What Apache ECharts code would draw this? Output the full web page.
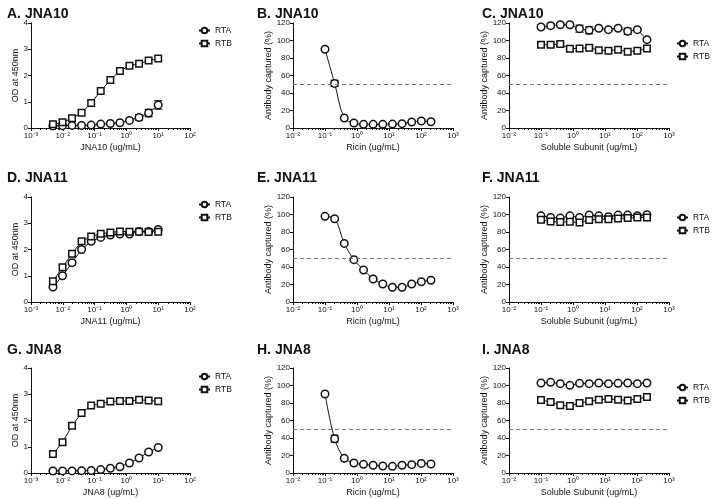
<!DOCTYPE html>
<html><head><meta charset="utf-8">
<script src="https://cdn.jsdelivr.net/npm/echarts@6/dist/echarts.min.js"></script>
<style>html,body{margin:0;padding:0;background:#fff}#c{width:713px;height:499px}</style>
</head><body><div id="c"></div><script>
// ---- concentrations ----
const concAb = [0.0049, 0.0098, 0.0195, 0.039, 0.078, 0.156, 0.3125, 0.625, 1.25, 2.5, 5, 10];
const concTox = [0.1, 0.2, 0.4, 0.8, 1.6, 3.2, 6.4, 12.8, 25.6, 51.2, 102.4, 204.8];
// ---- tick labels ----
const xTicksAb = [0.001, 0.01, 0.1, 1, 10, 100];
const xTicksTox = [0.01, 0.1, 1, 10, 100, 1000];
const yTicksOD = [0, 1, 2, 3, 4];
const yTicksPct = [0, 20, 40, 60, 80, 100, 120];
// ---- A. JNA10 ELISA ----
const A_RTA = [0.08, 0.09, 0.10, 0.10, 0.11, 0.15, 0.17, 0.20, 0.29, 0.40, 0.57, 0.88];
const A_RTA_err = [0, 0, 0, 0, 0, 0, 0, 0, 0.04, 0.1, 0.14, 0.16];
const A_RTB = [0.14, 0.22, 0.37, 0.58, 0.95, 1.41, 1.83, 2.17, 2.37, 2.45, 2.57, 2.65];
// ---- B. JNA10 ricin competition ----
const B_Ricin = [90, 51, 11.4, 5.7, 4.2, 4.2, 4.2, 4.5, 5, 6.8, 8, 7.2];
const B_Ricin_err = [0, 3.5, 0, 0, 0, 0, 0, 0, 0, 0, 0, 0];
// ---- C. JNA10 subunit competition ----
const C_RTA = [115.4, 117, 118, 118, 113.5, 111.6, 114, 112.4, 114, 110.5, 112.4, 101];
const C_RTA_err = [2, 2.5, 1.5, 1, 4, 4, 1, 1, 1, 3.5, 1, 1];
const C_RTB = [95.2, 95.2, 96, 90.7, 91, 91.8, 88.8, 88.4, 89.5, 87.2, 88.4, 91];
const C_RTB_err = [2, 2, 2, 0, 0, 1, 0, 0, 0, 0, 0, 0];
// ---- D. JNA11 ELISA ----
const D_RTA = [0.57, 1.0, 1.5, 2.0, 2.31, 2.46, 2.55, 2.59, 2.59, 2.69, 2.69, 2.76];
const D_RTA_err = [0, 0, 0.08, 0, 0, 0, 0, 0, 0, 0, 0, 0.04];
const D_RTB = [0.79, 1.32, 1.84, 2.31, 2.5, 2.6, 2.65, 2.69, 2.68, 2.68, 2.67, 2.68];
// ---- E. JNA11 ricin competition ----
const E_Ricin = [97.9, 95.2, 67, 48.4, 36.6, 26.3, 20.6, 16.8, 16.8, 20.6, 23.2, 24.8];
// ---- F. JNA11 subunit competition ----
const F_RTA = [98.5, 96.6, 95.9, 98.5, 96.6, 99.3, 98.5, 97.4, 99.3, 99.3, 98.5, 99.7];
const F_RTB = [93.9, 92, 91.3, 91.6, 90.9, 93.6, 94.7, 94.7, 95.5, 95.9, 96.6, 96.6];
// ---- G. JNA8 ELISA ----
const G_RTA = [0.08, 0.08, 0.08, 0.09, 0.10, 0.13, 0.18, 0.24, 0.38, 0.57, 0.80, 0.97];
const G_RTB = [0.72, 1.17, 1.80, 2.29, 2.57, 2.64, 2.72, 2.74, 2.74, 2.79, 2.76, 2.73];
// ---- H. JNA8 ricin competition ----
const H_Ricin = [90.3, 39.2, 16.8, 11.4, 9.9, 8.8, 8, 7.6, 8.8, 9.5, 11, 10.3];
const H_Ricin_err = [0, 4, 0, 0, 0, 0, 0, 0, 0, 0, 0, 0];
// ---- I. JNA8 subunit competition ----
const I_RTA = [102.9, 103.6, 102.1, 100.2, 102.5, 102.1, 102.9, 102.1, 102.5, 102.9, 102.1, 102.9];
const I_RTB = [83.4, 81.1, 77.3, 76.6, 80, 81.9, 83.8, 84.6, 83.8, 83, 84.6, 86.9];

const FONT = 'Liberation Sans, Arial, sans-serif';
const colLeft = [31, 293, 509], colW = [159, 160, 160];
const rowTop = [23, 197, 368], rowH = 105;

const panels = [
  {t:'A. JNA10', kind:'od', xName:'JNA10 (ug/mL)', s:[['RTA',A_RTA,A_RTA_err],['RTB',A_RTB,null]], legend:[198,30]},
  {t:'B. JNA10', kind:'tox', xName:'Ricin (ug/mL)', s:[['Ricin',B_Ricin,B_Ricin_err]]},
  {t:'C. JNA10', kind:'sub', xName:'Soluble Subunit (ug/mL)', s:[['RTA',C_RTA,C_RTA_err],['RTB',C_RTB,C_RTB_err]], legend:[676,43]},
  {t:'D. JNA11', kind:'od', xName:'JNA11 (ug/mL)', s:[['RTA',D_RTA,D_RTA_err],['RTB',D_RTB,null]], legend:[198,204]},
  {t:'E. JNA11', kind:'tox', xName:'Ricin (ug/mL)', s:[['Ricin',E_Ricin,null]]},
  {t:'F. JNA11', kind:'sub', xName:'Soluble Subunit (ug/mL)', s:[['RTA',F_RTA,null],['RTB',F_RTB,null]], legend:[676,217]},
  {t:'G. JNA8', kind:'od', xName:'JNA8 (ug/mL)', s:[['RTA',G_RTA,null],['RTB',G_RTB,null]], legend:[198,376]},
  {t:'H. JNA8', kind:'tox', xName:'Ricin (ug/mL)', s:[['Ricin',H_Ricin,H_Ricin_err]]},
  {t:'I. JNA8', kind:'sub', xName:'Soluble Subunit (ug/mL)', s:[['RTA',I_RTA,null],['RTB',I_RTB,null]], legend:[676,387]},
];
const titlePos = [[2,2],[252,2],[477,2],[2,166],[252,166],[477,166],[2,338],[252,338],[477,338]];

const supMap = {'-':'\u207B','0':'\u2070','1':'\u00B9','2':'\u00B2','3':'\u00B3'};
function fmtLog(v){ const e = String(Math.round(Math.log10(v))); return '10' + e.split('').map(c=>supMap[c]).join(''); }
function minorVals(lo, hi){ const out=[]; for(let e=lo;e<hi;e++){ for(let m=2;m<=9;m++) out.push(m*Math.pow(10,e)); } return out; }

const option = {animation:false, backgroundColor:'#fff', title:[], grid:[], xAxis:[], yAxis:[], series:[], legend:[]};
const axisLine = {show:true, lineStyle:{color:'#111', width:1}};

panels.forEach((p, i) => {
  const r = Math.floor(i/3), c = i%3;
  option.title.push({text:p.t, left:titlePos[i][0], top:titlePos[i][1], textStyle:{fontFamily:FONT, fontSize:14, fontWeight:'bold', color:'#111'}});
  option.grid.push({left:colLeft[c], top:rowTop[r], width:colW[c], height:rowH});
  const ticks = p.kind==='od' ? xTicksAb : xTicksTox;
  const xmin = ticks[0], xmax = ticks[ticks.length-1];
  option.xAxis.push({type:'log', logBase:10, gridIndex:i, min:xmin, max:xmax, position:'bottom',
    name:p.xName, nameLocation:'middle', nameGap:15, nameTextStyle:{fontFamily:FONT, fontSize:9, color:'#111'},
    axisLine, splitLine:{show:false},
    axisTick:{show:true, length:3, lineStyle:{color:'#111'}, customValues:ticks},
    axisLabel:{fontFamily:FONT, fontSize:8, color:'#111', margin:4, customValues:ticks, formatter:fmtLog}});
  option.xAxis.push({type:'log', logBase:10, gridIndex:i, min:xmin, max:xmax, position:'bottom',
    axisLine:{show:false}, splitLine:{show:false}, axisLabel:{show:false},
    axisTick:{show:true, length:2, lineStyle:{color:'#111'}, customValues:minorVals(Math.round(Math.log10(xmin)), Math.round(Math.log10(xmax)))}});
  const yt = p.kind==='od' ? yTicksOD : yTicksPct;
  option.yAxis.push({type:'value', gridIndex:i, min:yt[0], max:yt[yt.length-1], interval:yt[1]-yt[0],
    name: p.kind==='od' ? 'OD at 450nm' : 'Antibody captured (%)', nameLocation:'middle', nameGap: p.kind==='od' ? 11 : 19,
    nameTextStyle:{fontFamily:FONT, fontSize:9, color:'#111'},
    axisLine, splitLine:{show:false}, axisTick:{show:true, length:3, lineStyle:{color:'#111'}},
    axisLabel:{fontFamily:FONT, fontSize:8, color:'#111', margin:3}});
  const conc = p.kind==='od' ? concAb : concTox;
  p.s.forEach((s, k) => {
    const [name, vals, err] = s;
    const ser = {type:'line', name, xAxisIndex:2*i, yAxisIndex:i, z:3,
      data: conc.map((x,j)=>[x, vals[j]]),
      symbol: name==='RTB' ? 'rect' : 'circle', symbolSize: name==='RTB' ? 6.5 : 7.5,
      smooth: p.kind==='tox' ? 0.35 : false,
      itemStyle:{color:'#fff', borderColor:'#111', borderWidth:1.5},
      lineStyle:{color:'#111', width:1}, emphasis:{disabled:true}};
    if (p.kind!=='od' && k===0) {
      ser.markLine = {silent:true, symbol:'none', label:{show:false},
        lineStyle:{type:[4,3], color:'#777', width:1}, data:[{yAxis:50}]};
    }
    option.series.push(ser);
    if (err) {
      option.series.push({type:'custom', xAxisIndex:2*i, yAxisIndex:i, z:2, silent:true,
        data: conc.map((x,j)=>[x, vals[j], err[j]]).filter(d=>d[2]>0),
        renderItem:(params, api)=>{
          const x = api.value(0), y = api.value(1), e = api.value(2);
          const top = api.coord([x, y+e]), bot = api.coord([x, y-e]);
          const st = {stroke:'#111', lineWidth:1.2};
          return {type:'group', children:[
            {type:'line', shape:{x1:top[0], y1:top[1], x2:bot[0], y2:bot[1]}, style:st},
            {type:'line', shape:{x1:top[0]-4, y1:top[1], x2:top[0]+4, y2:top[1]}, style:st},
            {type:'line', shape:{x1:bot[0]-4, y1:bot[1], x2:bot[0]+4, y2:bot[1]}, style:st}]};
        }});
    }
  });
  if (p.legend) {
    option.legend.push({data:['RTA','RTB'], orient:'vertical', left:p.legend[0], top:p.legend[1]-4,
      padding:0, itemWidth:11, itemHeight:7, itemGap:4, selectedMode:false,
      textStyle:{fontFamily:FONT, fontSize:8.5, color:'#111'}});
  }
});

const chart = echarts.init(document.getElementById('c'), null, {renderer:'canvas'});
chart.setOption(option);
</script></body></html>
